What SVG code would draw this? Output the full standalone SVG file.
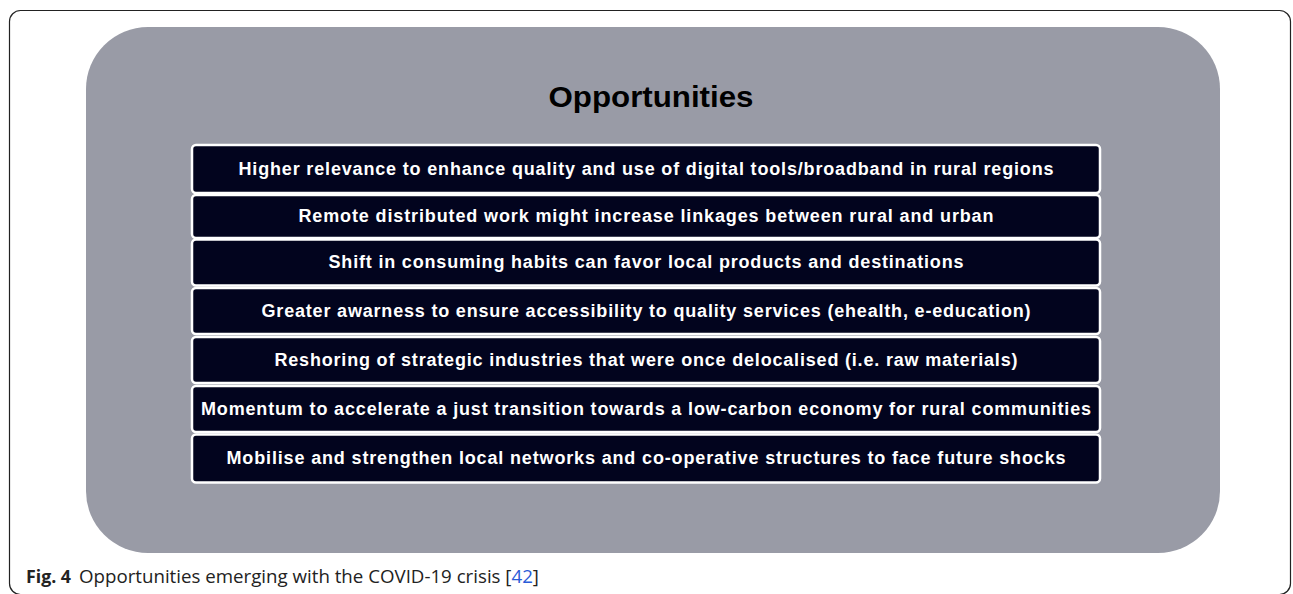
<svg xmlns="http://www.w3.org/2000/svg" width="1293" height="594" viewBox="0 0 1293 594">
<style>
.box{fill:#02041e;stroke:#ffffff;stroke-width:2.5}
.t{font-family:"Liberation Sans",Arial,sans-serif;font-weight:bold;font-size:18px;fill:#ffffff;text-anchor:middle}
.cap{font-family:"Open Sans","Noto Sans",sans-serif;font-size:18px;fill:#222}
</style>
<rect x="9.5" y="10.5" width="1281" height="584" rx="11" fill="#ffffff" stroke="#222" stroke-width="1.2"/>
<rect id="panel" x="86" y="27" width="1134" height="526" rx="62" fill="#999ba6"/>
<text id="title" x="651" y="107" font-family="'Liberation Sans',Arial,sans-serif" font-weight="bold" font-size="29" fill="#000" text-anchor="middle" textLength="205" lengthAdjust="spacingAndGlyphs">Opportunities</text>
<g id="n1"><rect class="box" x="192" y="145" width="908" height="48" rx="4"/><text class="t" x="646" y="175" textLength="815" lengthAdjust="spacing">Higher relevance to enhance quality and use of digital tools/broadband in rural regions</text></g>
<g id="n2"><rect class="box" x="192" y="195" width="908" height="43" rx="4"/><text class="t" x="646" y="222" textLength="695" lengthAdjust="spacing">Remote distributed work might increase linkages between rural and urban</text></g>
<g id="n3"><rect class="box" x="192" y="239.5" width="908" height="46" rx="4"/><text class="t" x="646" y="268" textLength="635" lengthAdjust="spacing">Shift in consuming habits can favor local products and destinations</text></g>
<g id="n4"><rect class="box" x="192" y="288" width="908" height="46" rx="4"/><text class="t" x="646" y="317" textLength="769" lengthAdjust="spacing">Greater awarness to ensure accessibility to quality services (ehealth, e-education)</text></g>
<g id="n5"><rect class="box" x="192" y="337" width="908" height="46" rx="4"/><text class="t" x="646" y="366" textLength="743" lengthAdjust="spacing">Reshoring of strategic industries that were once delocalised (i.e. raw materials)</text></g>
<g id="n6"><rect class="box" x="192" y="386" width="908" height="46" rx="4"/><text class="t" x="646" y="415" textLength="890" lengthAdjust="spacing">Momentum to accelerate a just transition towards a low-carbon economy for rural communities</text></g>
<g id="n7"><rect class="box" x="192" y="434.5" width="908" height="48" rx="4"/><text class="t" x="646" y="464" textLength="839" lengthAdjust="spacing">Mobilise and strengthen local networks and co-operative structures to face future shocks</text></g>
<g id="connectors"></g>
<g id="caption">
<text class="cap" x="26" y="583" font-weight="bold" textLength="45" lengthAdjust="spacingAndGlyphs">Fig. 4</text>
<text class="cap" x="79" y="583" textLength="460" lengthAdjust="spacingAndGlyphs">Opportunities emerging with the COVID-19 crisis [<tspan fill="#2a5bd7">42</tspan>]</text>
</g>
</svg>
